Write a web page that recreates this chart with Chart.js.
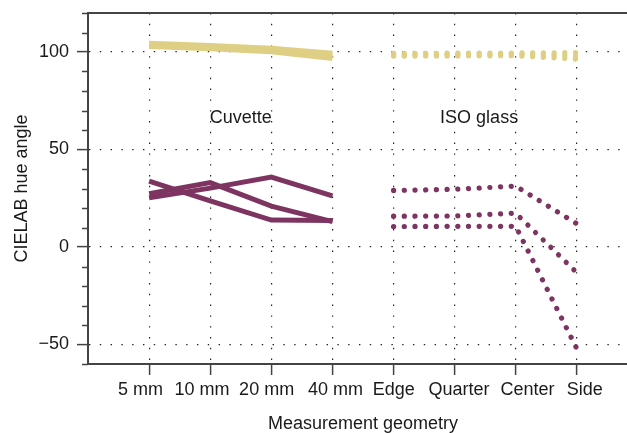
<!DOCTYPE html>
<html>
<head>
<meta charset="utf-8">
<script src="https://cdn.jsdelivr.net/npm/chart.js@4"></script>
<style>
  html, body { margin: 0; padding: 0; background: #fff; overflow: hidden; }
  canvas { display: block; }
</style>
</head>
<body>
<canvas id="myChart" width="640" height="433"></canvas>
<script>
// Categories on the x axis (first four = cuvette, last four = ISO glass)
const categories = ["5 mm", "10 mm", "20 mm", "40 mm", "Edge", "Quarter", "Center", "Side"];
const yTicks = [-50, 0, 50, 100];

// Cuvette series (solid lines)
const cuvetteYellow = [
  [104.5, 103.3, 101.9, 99.4],
  [103.7, 102.5, 101.0, 98.0],
  [102.8, 101.7, 100.1, 96.7],
];
const cuvettePurple = [
  [33.8, 23.6, 13.8, 13.6],
  [27.3, 33.0, 21.0, 13.0],
  [25.2, 30.2, 35.9, 26.2],
];

// ISO glass series (dotted lines)
const isoYellow = [
  [99.3, 99.4, 99.5, 99.7],
  [98.6, 98.7, 98.8, 98.0],
  [97.9, 98.0, 98.1, 96.3],
];
const isoPurple = [
  [29.0, 29.6, 31.2, 11.9],
  [15.8, 15.9, 17.3, -13.2],
  [10.5, 10.6, 10.6, -52.2],
];

// Text labels inside the plot
const noteText = ["Cuvette", "ISO glass"];
const noteX = [1.5, 5.4];
const noteY = [66, 66];

// small shifts of the tick labels (category units), the labels are wider than the spacing
const labelNudge = [-0.14, -0.134, -0.077, 0.05, 0.005, 0.072, 0.193, 0.129];

const yellow = "#dfcf85";
const purple = "#7e3461";
const axisColor = "#444";
const textColor = "#1a1a1a";

Chart.defaults.font.family = "'Liberation Sans', Arial, Helvetica, sans-serif";
Chart.defaults.font.size = 18;
Chart.defaults.color = textColor;

function toPoints(vals, start) {
  return vals.map((v, i) => ({ x: start + i, y: v }));
}

const datasets = [];
cuvetteYellow.forEach(s => datasets.push({
  data: toPoints(s, 0), borderColor: yellow, borderWidth: 5, borderCapStyle: "butt",
}));
isoYellow.forEach(s => datasets.push({
  data: toPoints(s, 4), borderColor: yellow, borderWidth: 5.2,
  borderCapStyle: "round", borderDash: [0.1, 10.6],
}));
cuvettePurple.forEach(s => datasets.push({
  data: toPoints(s, 0), borderColor: purple, borderWidth: 5, borderCapStyle: "butt", borderJoinStyle: "miter",
}));
isoPurple.forEach(s => datasets.push({
  data: toPoints(s, 4), borderColor: purple, borderWidth: 5.2,
  borderCapStyle: "round", borderDash: [0.1, 10.6],
}));
datasets.forEach(d => { d.pointRadius = 0; d.tension = 0; d.fill = false; });

// minor ticks on the y axis + text labels
const extras = {
  id: "extras",
  afterDatasetsDraw(chart) {
    const { ctx, scales } = chart;
    ctx.save();
    ctx.font = "18px 'Liberation Sans', Arial, sans-serif";
    ctx.fillStyle = textColor;
    ctx.textAlign = "center";
    ctx.textBaseline = "middle";
    noteText.forEach((t, i) => {
      ctx.fillText(t, scales.x.getPixelForValue(noteX[i]), scales.y.getPixelForValue(noteY[i]));
    });
    ctx.restore();
  },
  afterDraw(chart) {
    const { ctx, scales } = chart;
    const y = scales.y;
    ctx.save();
    ctx.strokeStyle = axisColor;
    ctx.lineWidth = 1.5;
    for (let v = y.min; v <= y.max; v += 10) {
      if (v % 50 === 0) continue;
      const py = Math.round(y.getPixelForValue(v)) + 0.5;
      ctx.beginPath();
      ctx.moveTo(y.right - 6, py);
      ctx.lineTo(y.right, py);
      ctx.stroke();
    }
    ctx.restore();
  },
};

const dotGrid = { dash: [1.4, 9.4], color: axisColor, width: 2 };

function noPad(s) {
  s.paddingTop = 0; s.paddingBottom = 0; s.paddingLeft = 0; s.paddingRight = 0;
}

const config = {
  type: "line",
  data: { datasets: datasets },
  options: {
    responsive: false,
    animation: false,
    devicePixelRatio: 1,
    layout: { padding: { top: 13, right: 2, left: 0, bottom: 0 } },
    plugins: { legend: { display: false }, tooltip: { enabled: false } },
    scales: {
      x: {
        type: "linear", position: "bottom", weight: 0, min: -1, max: 8,
        afterBuildTicks: s => { s.ticks = categories.map((c, i) => ({ value: i })); },
        ticks: { display: false },
        grid: { color: "#222", lineWidth: 1.2, tickLength: 11, tickColor: axisColor, tickWidth: 1.5, tickBorderDash: [] },
        border: dotGrid,
        afterFit: s => { s.height = 11; noPad(s); },
      },
      xLabels: {
        type: "linear", position: "bottom", weight: 1, min: -1, max: 8,
        afterBuildTicks: s => { s.ticks = categories.map((c, i) => ({ value: i + labelNudge[i] })); },
        ticks: {
          autoSkip: false, maxRotation: 0, padding: 4, color: textColor,
          callback: (v, i) => categories[i],
        },
        grid: { display: false, drawTicks: false },
        border: { display: false },
        title: {
          display: true, text: "Measurement geometry", color: textColor,
          font: { size: 18, lineHeight: 1 }, padding: { top: 0, bottom: 0 },
        },
        afterFit: s => { s.height = 58; noPad(s); },
      },
      xTop: {
        type: "linear", position: "top", min: -1, max: 8,
        ticks: { display: false },
        grid: { display: false, drawTicks: false },
        border: { display: true, color: axisColor, width: 2 },
        afterFit: s => { s.height = 0; noPad(s); },
      },
      y: {
        type: "linear", min: -60, max: 120,
        afterBuildTicks: s => { s.ticks = yTicks.map(v => ({ value: v })); },
        ticks: {
          padding: 8, color: textColor,
          callback: v => (v < 0 ? "\u2212" + Math.abs(v) : String(v)),
        },
        grid: { color: "#222", lineWidth: 1.2, tickLength: 11, tickColor: axisColor, tickWidth: 1.5, tickBorderDash: [] },
        border: dotGrid,
        title: {
          display: true, text: "CIELAB hue angle", color: textColor,
          font: { size: 18, lineHeight: 1 }, padding: { top: 13, bottom: 0 },
        },
        afterFit: s => { s.width = 88; noPad(s); },
      },
    },
  },
  plugins: [extras],
};

const ctx = document.getElementById("myChart").getContext("2d");
new Chart(ctx, config);
</script>
</body>
</html>
